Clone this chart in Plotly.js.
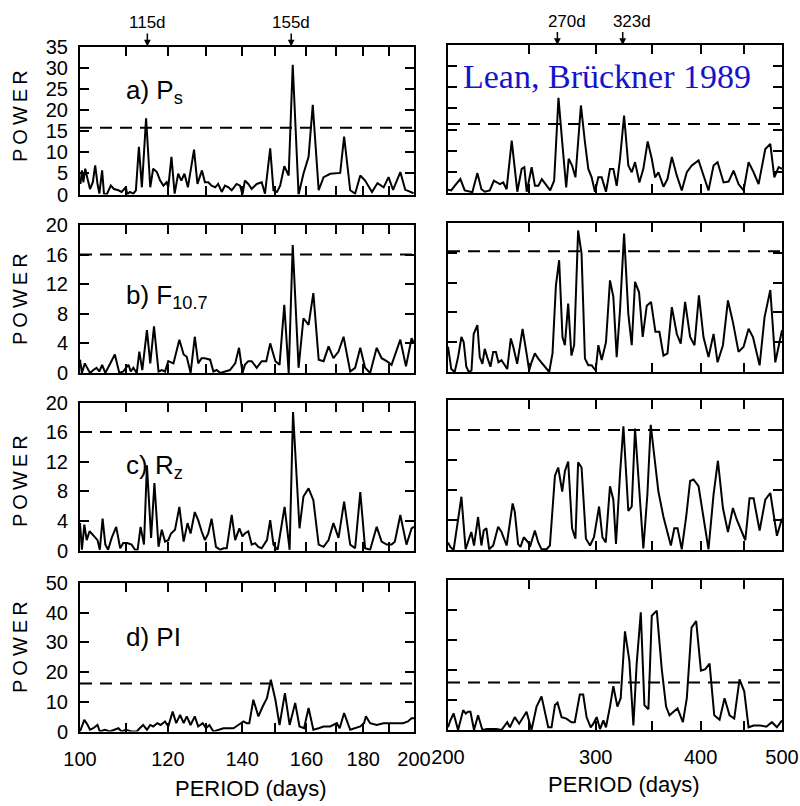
<!DOCTYPE html>
<html>
<head>
<meta charset="utf-8">
<script src="https://cdn.plot.ly/plotly-3.0.1.min.js"></script>
<style>html,body{margin:0;padding:0;background:#fff;}#chart{width:800px;height:806px;}</style>
</head>
<body>
<div id="chart"></div>
<script>
// ---------------- DATA ----------------
// a) Ps
const psPeriodLeft = [100.1,100.4,100.7,101.1,101.5,102.1,102.7,103.2,103.7,104.1,104.7,105.1,105.7,106.6,107.3,108.3,109.0,110.0,110.3,110.9,111.7,112.3,113.0,113.7,114.7,115.7,116.4,117.3,118.1,118.9,119.7,120.1,120.9,121.7,122.6,123.4,124.2,125.1,126.7,127.6,128.8,129.6,130.5,131.4,132.4,133.2,134.2,135.1,136.1,137.0,138.4,139.4,140.1,140.8,141.8,142.8,144.3,145.8,146.8,148.4,149.4,150.5,151.5,152.8,154.2,155.5,157.4,159.0,160.7,162.1,164.1,165.8,168.1,170.4,171.6,173.0,175.2,177.0,178.9,180.7,183.3,185.4,187.8,189.7,191.5,194.4,196.4,197.8,199.8];
const psPowerLeft = [2.5,5.7,2.9,6.1,4.1,1.3,2.9,6.9,2.5,0.2,5.7,0.2,0,2.1,1.3,1.0,0.6,1.7,0,0.6,0.2,1.0,11.3,1.7,18.0,1.7,6.1,5.3,3.3,2.1,2.9,1.7,8.9,0.2,4.9,3.3,4.9,1.7,10.6,2.5,5.7,2.9,2.9,2.1,1.7,2.5,0.6,2.1,1.7,1.0,2.5,2.1,0,3.3,2.5,1.3,2.5,2.9,0.2,10.9,1.0,0.6,2.1,6.7,4.5,30.7,0,4.9,8.9,21.2,1.0,4.1,4.9,5.1,5.1,13.7,1.0,0.2,4.5,3.3,0.6,2.7,1.7,4.1,1.1,5.3,1.1,0.8,0.3];
const psPeriodRight = [200.0,201.8,203.7,206.9,209.4,212.3,213.8,216.8,219.2,221.3,224.3,226.8,228.4,230.6,232.7,234.9,238.2,241.9,244.8,246.6,248.2,249.8,251.6,253.9,256.3,258.7,262.3,264.7,267.6,270.8,273.6,276.6,278.5,281.1,283.7,288.0,291.2,293.9,296.6,299.3,302.1,304.9,308.5,311.9,314.8,317.7,320.6,324.2,328.0,331.1,334.1,338.1,341.8,345.9,349.8,353.0,356.2,361.2,365.2,369.6,374.7,379.8,385.1,390.4,397.7,403.1,408.7,414.4,419.0,425.9,431.8,437.8,443.8,450.0,456.2,462.5,468.9,477.6,484.2,489.6,495.4,500.0];
const psPowerRight = [0.8,0.6,1.7,3.3,0.6,0.3,0.2,4.7,0.9,0.3,0.6,2.9,2.5,2.1,2.5,0.9,12.4,0.3,5.7,6.1,0.3,3.3,6.1,1.7,1.7,3.3,1.7,0.6,2.9,22.5,12.0,1.3,8.1,6.5,3.7,20.7,12.0,5.7,3.7,0.3,3.7,3.7,0.3,5.7,5.7,1.7,8.1,18.3,6.5,4.9,7.3,2.5,5.7,12.2,8.1,3.7,4.9,1.5,3.3,8.5,4.1,0.6,4.9,6.5,7.7,4.1,0.6,6.5,7.3,2.5,2.7,5.3,2.1,0.6,7.3,4.9,2.1,10.4,11.6,3.7,6.1,5.7];

// b) F10.7
const f107PeriodLeft = [100.0,100.4,101.0,101.5,102.1,102.8,103.5,104.1,104.7,105.4,106.4,107.5,108.5,109.4,110.0,110.6,111.1,111.7,112.5,113.1,113.8,114.9,115.7,116.6,117.7,118.5,119.3,120.1,121.4,122.9,124.0,124.8,125.8,126.9,127.8,128.7,129.6,131.0,131.9,132.8,133.8,135.1,136.5,138.0,139.1,140.1,140.8,141.8,142.8,144.3,145.8,147.2,148.4,150.0,151.3,152.8,154.2,155.5,157.4,159.0,160.7,162.3,164.1,165.8,167.5,169.2,171.0,172.8,175.2,177.0,178.9,180.7,182.6,185.1,187.0,189.0,190.9,194.4,196.7,199.0,200.0];
const f107PowerLeft = [1.8,0,1.3,0.7,0,0.4,0.7,0.2,1.1,0,1.1,2.5,0,0.2,0.7,1.1,0.2,0.7,0,2.9,0.4,5.8,1.3,6.3,0.2,0.4,0.2,1.6,1.3,4.5,2.5,2.2,0,4.9,1.3,2.0,2.0,1.8,0.2,0.4,0,0.2,0.4,1.3,3.4,0,1.1,1.6,1.6,0.7,1.6,1.6,4.0,1.6,1.1,9.2,0,17.3,0.7,7.4,6.5,10.8,1.8,1.6,3.6,2.0,2.9,4.9,0.2,0.7,3.4,0.7,0,3.4,2.0,1.6,1.1,4.5,0.9,4.7,4.0];
const f107PeriodRight = [200.0,201.8,203.7,205.6,207.5,208.8,210.3,211.8,213.3,214.6,216.8,218.2,219.8,221.2,222.7,224.7,226.4,228.1,229.7,231.6,233.1,235.3,237.6,239.2,241.8,245.4,248.1,249.9,251.5,253.8,256.2,258.5,260.9,264.0,266.4,268.9,271.3,273.8,275.6,278.1,280.6,282.7,285.8,288.5,291.2,293.9,296.6,299.9,302.1,304.9,308.5,311.9,314.8,317.7,320.6,324.2,328.0,331.1,334.1,337.8,341.2,345.0,349.1,353.3,357.2,361.2,365.2,369.6,374.7,378.7,383.3,388.6,393.3,398.1,403.1,408.7,414.4,419.0,425.2,431.1,437.0,443.8,450.0,456.2,461.7,470.2,476.7,484.2,490.9,500.0];
const f107PowerRight = [3.4,0.4,0,2.0,4.7,4.0,0.7,0,0.2,5.1,6.3,2.0,1.1,3.1,2.0,0.7,2.7,2.7,1.3,1.6,1.1,0.4,4.5,3.4,1.1,5.8,2.5,0.2,1.3,2.5,1.8,1.3,0.7,0,2.5,11.6,15.0,4.7,3.6,9.2,2.2,3.6,19.0,15.9,1.8,0.9,0.9,0.2,3.6,1.6,4.0,12.3,10.1,2.0,8.3,18.6,7.8,3.6,12.1,10.7,4.7,8.9,9.4,5.4,5.4,2.2,2.5,8.7,5.1,3.8,9.4,4.7,3.6,10.3,4.7,2.0,5.1,1.3,3.6,9.6,6.7,2.7,3.4,5.8,4.7,0.9,7.4,11.0,1.3,5.6];

// c) Rz
const rzPeriodLeft = [100.0,100.4,100.9,101.4,102.0,102.5,103.0,103.7,104.2,104.8,105.4,106.0,106.8,107.8,108.7,109.4,110.3,111.3,112.1,112.7,113.4,114.2,114.9,115.9,116.7,117.7,118.5,119.3,120.1,120.8,121.8,122.9,124.0,125.0,125.8,126.9,127.8,128.7,129.6,130.5,131.4,132.6,133.8,134.7,135.6,137.0,138.0,139.2,140.1,140.8,141.8,142.8,143.8,144.8,145.8,147.4,148.4,149.4,150.7,152.9,154.5,155.6,157.7,159.0,160.7,162.3,164.1,165.8,167.5,169.2,171.0,173.0,175.2,177.0,178.9,180.7,182.6,185.1,187.0,189.0,190.9,192.2,194.4,196.9,199.0,200.0];
const rzPowerLeft = [3.7,0.1,3.5,1.4,2.6,2.3,1.9,1.4,0.1,4.3,0.8,0.1,1.7,3.2,0.3,1.0,1.0,0.8,0.1,0.1,3.2,0.8,11.5,1.7,9.1,0.5,2.8,1.2,1.4,2.3,2.8,5.9,1.2,3.7,2.3,5.2,4.1,2.6,1.4,2.3,4.3,0.5,0.1,0.3,0.3,4.8,1.4,3.0,1.9,2.3,2.6,0.8,1.0,0.5,0.3,1.4,4.1,0.8,0.1,5.9,0.1,18.7,3.0,7.3,8.4,6.8,0.8,0.5,1.4,3.7,1.7,6.6,0.8,0.3,7.9,0.3,0.1,3.2,1.2,0.8,0.8,1.2,4.8,0.8,3.0,3.2];
const rzPeriodRight = [200.0,201.3,203.1,205.0,207.5,209.9,211.8,213.2,214.8,217.2,219.2,220.6,222.2,223.9,226.4,229.5,231.6,234.9,238.8,240.2,242.4,244.0,246.2,249.3,250.4,253.8,256.2,258.5,262.1,264.5,268.2,270.6,273.6,275.6,278.1,281.1,283.7,285.8,288.5,292.0,295.3,298.5,302.7,305.5,308.3,311.9,314.8,317.1,320.6,323.6,328.0,331.1,334.1,337.8,341.8,345.6,348.8,352.0,356.2,361.2,365.6,368.6,372.1,375.4,379.8,384.4,388.6,392.2,397.7,403.1,408.7,414.4,419.4,425.2,431.1,437.0,441.8,447.9,452.1,457.4,462.5,470.2,477.6,484.2,493.1,500.0];
const rzPowerRight = [1.0,0.4,0,2.9,7.1,0.1,1.3,2.4,0.6,4.4,0.6,2.6,2.9,0.1,0.6,3.1,2.4,0.6,6.2,5.1,0.8,0.4,1.7,1.0,0.4,2.6,1.0,0.1,0.1,0.6,9.9,11.0,7.8,10.5,11.8,2.9,1.5,11.7,11.0,1.5,0.6,1.7,5.8,1.7,1.0,8.5,6.7,0.8,10.1,16.5,5.2,5.8,16.2,7.8,0.2,7.4,16.7,12.8,7.8,4.4,2.2,0.6,2.9,2.9,0.1,4.4,9.2,9.4,8.5,4.0,0.1,7.4,11.9,5.6,2.4,5.6,4.0,2.4,1.3,6.9,6.9,2.6,6.7,7.6,1.9,4.2];

// d) PI
const piPeriodLeft = [100.0,100.9,101.6,102.1,102.8,103.7,104.2,105.3,106.4,107.3,108.3,109.0,110.0,111.3,112.5,113.2,114.0,114.9,115.7,116.4,117.4,118.2,119.3,120.1,121.2,122.1,123.1,124.0,124.8,125.8,126.9,127.8,129.0,129.9,130.8,131.9,133.3,134.7,136.1,137.5,138.9,140.4,141.3,142.1,143.3,144.8,146.1,147.4,148.6,150.0,151.3,153.0,154.5,156.3,157.7,159.2,160.7,162.3,164.1,165.8,168.1,170.4,171.4,173.0,175.2,177.0,178.9,180.3,181.0,182.6,185.1,187.7,190.3,192.9,195.5,197.5,199.0,200.0];
const piPowerLeft = [0,3.9,2.2,0.6,1.1,2.2,0,0.6,0,0.6,1.1,0,0.6,0,0,1.1,2.2,0.6,2.2,1.7,2.8,2.2,3.4,1.7,6.7,2.8,5.6,2.8,5.1,2.2,5.1,1.7,2.8,1.1,2.2,0,0.6,1.1,1.1,1.1,2.2,3.4,2.8,2.8,10.7,5.1,8.4,11.2,17.4,10.7,2.2,12.9,2.2,9.6,1.7,1.1,7.9,0.6,1.1,1.7,1.7,2.8,1.1,6.2,0.6,1.1,1.7,2.8,5.1,2.8,2.2,2.8,2.8,2.8,2.8,3.4,4.5,4.5];
const piPeriodRight = [200.0,201.3,203.1,205.6,208.5,210.0,211.3,212.7,214.8,217.2,219.8,222.5,225.2,228.4,231.6,235.3,237.0,240.2,243.1,248.1,251.5,255.0,258.5,263.3,265.7,268.2,270.1,273.1,276.8,280.6,283.2,287.1,289.8,292.5,295.8,298.0,300.7,303.5,306.3,308.5,311.9,314.8,318.3,321.2,325.0,328.9,332.6,335.6,339.4,342.8,346.6,349.8,354.6,359.5,363.8,367.2,371.3,375.4,381.0,385.1,390.1,395.1,400.3,405.1,409.9,415.2,421.3,427.1,433.0,438.6,445.0,450.8,456.2,462.5,471.1,478.9,486.4,493.1,500.0];
const piPowerRight = [0.9,3.2,5.5,0,6.6,5.5,6.1,6.1,0,4.9,0,0.3,0.3,0.3,0,2.6,0.9,4.3,2.1,6.1,0,7.8,11.2,0.9,0.9,8.3,9.1,4.3,3.8,2.6,2.6,11.8,11.8,4.3,0.9,2.1,4.3,0.3,3.2,0.9,7.8,14.6,7.8,10.6,32.9,23.2,1.5,22.1,39.2,8.3,6.9,38.1,39.8,20.3,7.8,4.9,6.1,7.2,2.6,10.6,34.1,36.3,19.8,20.3,22.1,4.9,3.4,10.6,4.9,3.8,16.9,12.9,0.9,1.5,1.5,1.1,2.6,0.9,3.2];

// significance levels (dashed lines), per row
const thresholdLeft  = [15.8, 16.0, 16.0, 16.2];
const thresholdRight = [16.3, 16.2, 16.0, 15.8];

// axis ticks
const leftMajorTicks  = [100,120,140,160,180,200];
const leftMinorTicks  = [110,130,150,170,190];
const rightMajorTicks = [200,300,400,500];
const rightMinorTicks = [250,350,450];
const rowYRange = [[0,35],[0,20],[0,20],[0,50]];
const rowYDtick = [5,4,4,10];
const panelLabels = ['a) P<sub>s</sub>','b) F<sub>10.7</sub>','c) R<sub>z</sub>','d) PI'];
const markedPeriodsLeft = [115,155];
const markedPeriodsRight = [270,323];
const markedTextLeft = ['115d','155d'];
const markedTextRight = ['270d','323d'];

// ---------------- LAYOUT ----------------
const W = 800, H = 806;
const sans = "'Liberation Sans',Arial,sans-serif";
const py = p => 1 - p / H;
const leftX = [80/W, 414/W], rightX = [448/W, 782/W];
const leftRows  = [[46.5,194.5],[225,373],[402.5,550.5],[583,731.5]];
const rightRows = [[45,193],[223,372],[400,550],[580,730]];

const seriesLeft  = [[psPeriodLeft,psPowerLeft],[f107PeriodLeft,f107PowerLeft],[rzPeriodLeft,rzPowerLeft],[piPeriodLeft,piPowerLeft]];
const seriesRight = [[psPeriodRight,psPowerRight],[f107PeriodRight,f107PowerRight],[rzPeriodRight,rzPowerRight],[piPeriodRight,piPowerRight]];

const tickFont = {family: sans, size: 20, color: '#000'};
const baseAxis = {
  showline: true, linecolor: '#000', linewidth: 2, mirror: 'ticks',
  ticks: 'inside', ticklen: 9, tickwidth: 2, tickcolor: '#000',
  showgrid: false, zeroline: false, tickfont: tickFont, fixedrange: true,
  ticklabeloverflow: 'allow'
};

const data = [];
const layout = {
  width: W, height: H, margin: {l:0, r:0, t:0, b:0},
  paper_bgcolor: '#fff', plot_bgcolor: '#fff', showlegend: false,
  shapes: [], annotations: []
};

for (let r = 0; r < 4; r++) {
  for (let c = 0; c < 2; c++) {
    const idx = r*2 + c + 1;
    const xn = idx === 1 ? 'x' : 'x' + idx;
    const yn = idx === 1 ? 'y' : 'y' + idx;
    const xk = idx === 1 ? 'xaxis' : 'xaxis' + idx;
    const yk = idx === 1 ? 'yaxis' : 'yaxis' + idx;
    const rows = c === 0 ? leftRows : rightRows;
    const s = c === 0 ? seriesLeft[r] : seriesRight[r];
    data.push({x: s[0], y: s[1], xaxis: xn, yaxis: yn, type: 'scatter', mode: 'lines',
      line: {color: '#000', width: 2}, hoverinfo: 'skip'});
    layout[xk] = Object.assign({}, baseAxis, {
      type: 'log', anchor: yn, domain: c === 0 ? leftX : rightX,
      range: c === 0 ? [Math.log10(100), Math.log10(200)] : [Math.log10(200), Math.log10(500)],
      tickmode: 'array', tickvals: c === 0 ? leftMajorTicks : rightMajorTicks,
      ticktext: (c === 0 ? leftMajorTicks : rightMajorTicks).map(String),
      minor: {tickmode: 'array', tickvals: c === 0 ? leftMinorTicks : rightMinorTicks,
        ticks: 'inside', ticklen: 9, tickwidth: 2, tickcolor: '#000', showgrid: false},
      showticklabels: r === 3, ticklabelstandoff: 8
    });
    layout[yk] = Object.assign({}, baseAxis, {
      anchor: xn, domain: [py(rows[r][1]), py(rows[r][0])],
      range: rowYRange[r], dtick: rowYDtick[r], tick0: 0,
      showticklabels: c === 0, ticklabelstandoff: 6
    });
    const th = (c === 0 ? thresholdLeft : thresholdRight)[r];
    layout.shapes.push({type: 'line', xref: xn + ' domain', yref: yn,
      x0: 0, x1: 1, y0: th, y1: th,
      line: {color: '#000', width: 2, dash: '12px,8px'}});
  }
  // POWER labels
  const powerCenters = [116, 299, 481, 647];
  layout.annotations.push({xref: 'paper', yref: 'paper', x: 20/W, y: py(powerCenters[r]),
    text: 'P\u2009O\u2009W\u2009E\u2009R', textangle: -90, showarrow: false,
    font: {family: sans, size: 20, color: '#000'},
    xanchor: 'center', yanchor: 'middle'});
  // panel labels
  const labelTops = [73, 278, 448, 620];
  layout.annotations.push({xref: 'paper', yref: 'paper', x: 124/W, y: py(labelTops[r]),
    text: panelLabels[r], showarrow: false, xanchor: 'left', yanchor: 'top',
    font: {family: sans, size: 26, color: '#000'}});
}

// arrows marking periods, with labels above
const arrowStyle = {showarrow: true, arrowhead: 2, arrowsize: 0.9, arrowwidth: 1.5, arrowcolor: '#000',
  standoff: 0, startstandoff: 0, font: {family: sans, size: 17, color: '#000'}};
markedPeriodsLeft.forEach((p, i) => {
  layout.annotations.push(Object.assign({}, arrowStyle, {xref: 'x', yref: 'y domain',
    x: Math.log10(p), y: 1, ax: 0, ay: -24, text: markedTextLeft[i]}));
});
markedPeriodsRight.forEach((p, i) => {
  // leading no-break spaces push the visible label ~10 px right of its arrow, as in the original
  layout.annotations.push(Object.assign({}, arrowStyle, {xref: 'x2', yref: 'y2 domain',
    x: Math.log10(p), y: 1, ax: 0, ay: -24, text: '\u00a0\u00a0\u00a0\u00a0' + markedTextRight[i]}));
});

// x axis titles
layout.annotations.push({xref: 'paper', yref: 'paper', x: 251/W, y: py(788), text: 'PERIOD (days)',
  showarrow: false, xanchor: 'center', yanchor: 'middle', font: {family: sans, size: 22, color: '#000'}});
layout.annotations.push({xref: 'paper', yref: 'paper', x: 624/W, y: py(784), text: 'PERIOD (days)',
  showarrow: false, xanchor: 'center', yanchor: 'middle', font: {family: sans, size: 22, color: '#000'}});

// citation
layout.annotations.push({xref: 'paper', yref: 'paper', x: 607/W, y: py(76), text: 'Lean, Brückner 1989',
  showarrow: false, xanchor: 'center', yanchor: 'middle',
  font: {family: "'Liberation Serif','Times New Roman',serif", size: 34, color: '#1414cc'}});

Plotly.newPlot('chart', data, layout, {displayModeBar: false, staticPlot: true});
</script>
</body>
</html>
